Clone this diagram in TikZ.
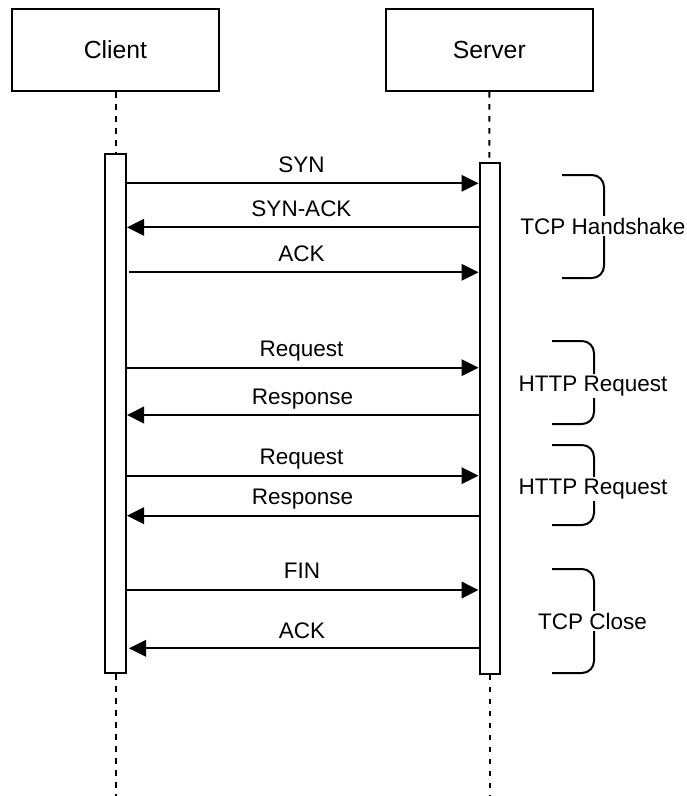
\documentclass[tikz,border=0pt]{standalone}
\usepackage{fontspec}
\setmainfont{Liberation Sans}
\usetikzlibrary{arrows.meta,calc}
\begin{document}
\begin{tikzpicture}[x=1pt,y=-1pt,
  every node/.style={font=\fontsize{22.5}{27}\selectfont},
  actor/.style={draw,line width=2pt,minimum width=207pt,minimum height=82pt,inner sep=0pt,fill=white,font=\fontsize{24.75}{30}\selectfont},
  bar/.style={draw,line width=2pt,fill=white,inner sep=0pt},
  life/.style={line width=2pt,dash pattern=on 5.5pt off 6.5pt},
  msg/.style={line width=2pt,-{Triangle[length=17pt,width=16.5pt]}},
  lbl/.style={anchor=base,inner sep=0pt},
  brk/.style={line width=2pt,rounded corners=12pt},
  brlbl/.style={fill=white,inner sep=2pt,anchor=base}]
\useasboundingbox (0,0) rectangle (687,796);
% actors
\node[actor] (client) at (115.5,50) {Client};
\node[actor] (server) at (489.3,50) {Server};
% activation bars (nodes)
\node[bar,minimum width=21pt,minimum height=519pt] (cbar) at (115.5,413.5) {};
\node[bar,minimum width=20pt,minimum height=511pt] (sbar) at (489.5,418) {};
% lifelines
\coordinate (cend) at (115.5,796);
\coordinate (send) at (489.5,796);
\draw[life] (client.south) -- (cbar.north);
\draw[life] (server.south) -- (sbar.north);
\draw[life] (cbar.south) -- (cend);
\draw[life] (sbar.south) -- (send);
% redraw bars on top
\node[bar,minimum width=21pt,minimum height=519pt] at (cbar) {};
\node[bar,minimum width=20pt,minimum height=511pt] at (sbar) {};
% messages
\draw[msg] (cbar.east |- 0,183.3) -- (sbar.west |- 0,183.3);
\node[lbl] (l1) at (301.5,172.3) {SYN};
\draw[msg] (sbar.west |- 0,227.3) -- (cbar.east |- 0,227.3);
\node[lbl] (l2) at (301.5,216.3) {SYN-ACK};
\draw[msg] ($(cbar.east |- 0,272.3)+(2,0)$) -- (sbar.west |- 0,272.3);
\node[lbl] (l3) at (301.5,261.3) {ACK};
\draw[msg] (cbar.east |- 0,367.7) -- (sbar.west |- 0,367.7);
\node[lbl] (l4) at (301.5,356.7) {Request};
\draw[msg] (sbar.west |- 0,415) -- (cbar.east |- 0,415);
\node[lbl] (l5) at (302.5,404) {Response};
\draw[msg] (cbar.east |- 0,475.7) -- (sbar.west |- 0,475.7);
\node[lbl] (l6) at (301.5,464.7) {Request};
\draw[msg] (sbar.west |- 0,515.7) -- (cbar.east |- 0,515.7);
\node[lbl] (l7) at (302.5,504.7) {Response};
\draw[msg] (cbar.east |- 0,590) -- (sbar.west |- 0,590);
\node[lbl] (l8) at (302,578.5) {FIN};
\draw[msg] (sbar.west |- 0,648.3) -- ($(cbar.east |- 0,648.3)+(2,0)$);
\node[lbl] (l9) at (302,638) {ACK};
% brackets
\draw[brk] (562,175) -- (604,175) -- (604,278) -- (562,278);
\node[brlbl] (b1) at (603,234) {TCP Handshake};
\draw[brk] (552,341) -- (594,341) -- (594,424) -- (552,424);
\node[brlbl] (b2) at (593,391) {HTTP Request};
\draw[brk] (552,445) -- (594,445) -- (594,525) -- (552,525);
\node[brlbl] (b3) at (593,494) {HTTP Request};
\draw[brk] (552,569) -- (594,569) -- (594,673) -- (552,673);
\node[brlbl] (b4) at (592.5,629) {TCP Close};
\end{tikzpicture}
\end{document}
